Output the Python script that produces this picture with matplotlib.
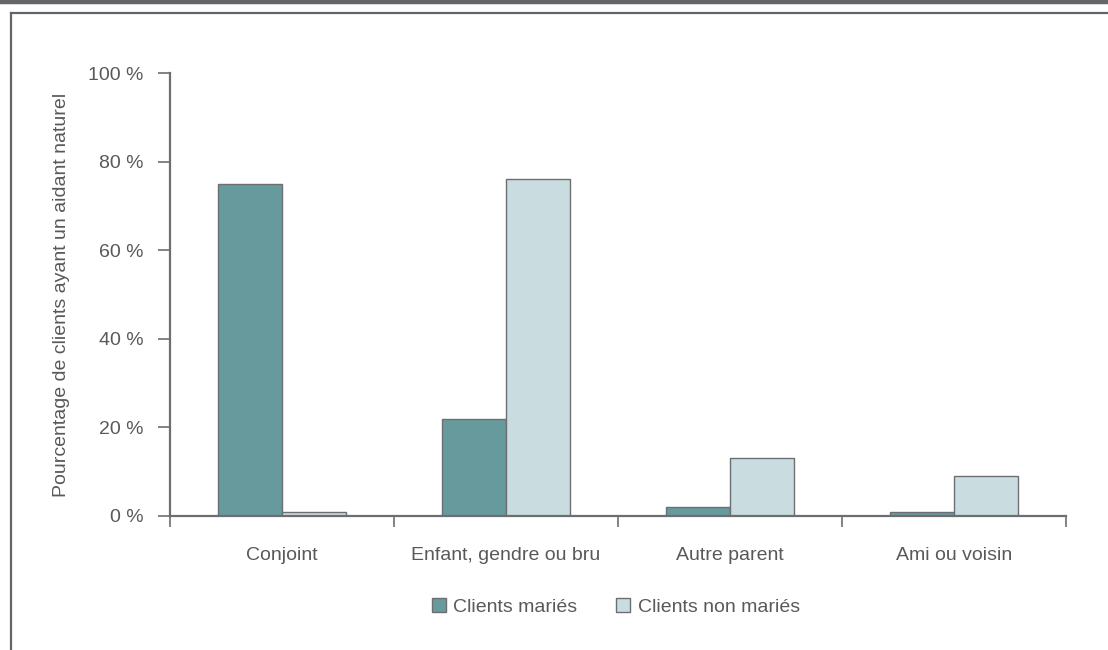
import numpy as np
import matplotlib.pyplot as plt
from matplotlib.lines import Line2D
from matplotlib.patches import Patch
from matplotlib import font_manager

# fonts: a narrow sans if present, else plain Liberation Sans
names = {f.name for f in font_manager.fontManager.ttflist}
fam = 'Liberation Sans Narrow' if 'Liberation Sans Narrow' in names else 'Liberation Sans'
plt.rcParams['font.family'] = [fam, 'DejaVu Sans']

categories = ['Conjoint', 'Enfant, gendre ou bru', 'Autre parent', 'Ami ou voisin']
maries = [75, 22, 2, 1]
non_maries = [1, 76, 13, 9]
series_names = ['Clients mariés', 'Clients non mariés']
yticks = [0, 20, 40, 60, 80, 100]

txt = '#58595b'
edge = '#6d6e71'
c_maries = '#669a9c'
c_non = '#c9dcdf'
fs = 14

fig = plt.figure(figsize=(11.08, 6.5), dpi=100)

# frame lines around the chart
fig.add_artist(Line2D([0, 1], [1 - 1.5 / 650] * 2, color='#646569', lw=3.2))
fig.add_artist(Line2D([11 / 1108, 1], [1 - 12.5 / 650] * 2, color='#646569', lw=1.6))
fig.add_artist(Line2D([11 / 1108] * 2, [0, 1 - 12.5 / 650], color='#646569', lw=1.6))

ax = fig.add_axes([170 / 1108, 1 - 516 / 650, 896 / 1108, 443 / 650])

x = np.arange(len(categories))
w = 0.2857
ax.bar(x - w / 2, maries, w, color=c_maries, edgecolor=edge, lw=1.0)
ax.bar(x + w / 2, non_maries, w, color=c_non, edgecolor=edge, lw=1.0)

ax.set_xlim(-0.5, len(categories) - 0.5)
ax.set_ylim(0, 100)
for s in ['top', 'right']:
    ax.spines[s].set_visible(False)
for s in ['left', 'bottom']:
    ax.spines[s].set_color(edge)
    ax.spines[s].set_linewidth(1.6)

ax.set_yticks(yticks)
ax.set_yticklabels([f'{v} %' for v in yticks])
ax.tick_params(axis='y', direction='out', length=9, width=1.2, color=edge,
               labelsize=fs, labelcolor=txt, pad=10)

# category ticks sit between the groups
ax.set_xticks(np.arange(len(categories) + 1) - 0.5)
ax.set_xticklabels([])
ax.set_xticks(x, minor=True)
ax.set_xticklabels(categories, minor=True)
ax.tick_params(axis='x', which='major', direction='out', length=8, width=1.2, color=edge)
ax.tick_params(axis='x', which='minor', length=0, labelsize=fs, labelcolor=txt, pad=22)

ax.set_ylabel('Pourcentage de clients ayant un aidant naturel', fontsize=fs,
              color=txt, va='center')
ax.yaxis.set_label_coords(-108 / 896, 0.5)

handles = [Patch(facecolor=c_maries, edgecolor=edge, lw=1.0),
           Patch(facecolor=c_non, edgecolor=edge, lw=1.0)]
fig.legend(handles, series_names, loc='center', bbox_to_anchor=(616 / 1108, 1 - 607 / 650),
           ncol=2, frameon=False, fontsize=fs, labelcolor=txt, handlelength=0.7,
           handleheight=0.7, handletextpad=0.4, columnspacing=2.0)

fig.savefig('out.png', dpi=100)
